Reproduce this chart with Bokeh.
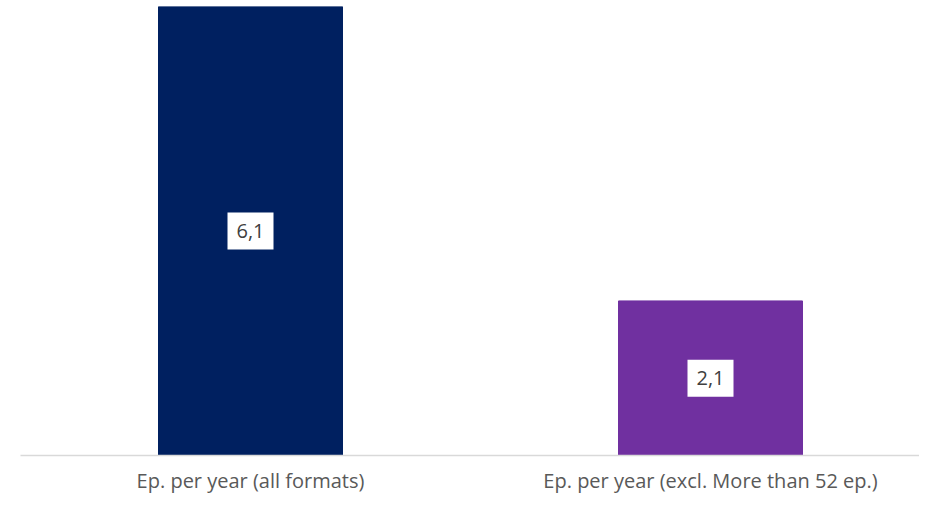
from bokeh.plotting import figure
from bokeh.models import ColumnDataSource, Range1d, FixedTicker
from bokeh.core.properties import value
from bokeh.embed import file_html
from bokeh.resources import INLINE

categories = ["Ep. per year (all formats)", "Ep. per year (excl. More than 52 ep.)"]
values = [6.1, 2.1]
value_labels = ["6,1", "2,1"]
colors = ["#002060", "#7030A0"]

positions = [i + 0.5 for i in range(len(categories))]
src = ColumnDataSource(dict(x=positions, top=values, mid=[v / 2 for v in values],
                            lab=value_labels, color=colors))

p = figure(width=919, height=496, output_backend="svg", toolbar_location=None,
           x_range=Range1d(0, 899 / 460), y_range=Range1d(0, 6.1),
           min_border_left=20, min_border_right=0, min_border_top=6, min_border_bottom=0)
p.outline_line_color = None
p.background_fill_color = "white"
p.border_fill_color = "white"
p.grid.visible = False
p.yaxis.visible = False

p.vbar(x="x", top="top", bottom=0, width=0.4, color="color", source=src)

p.rect(x="x", y="mid", width=46, height=37, width_units="screen", height_units="screen",
       fill_color="white", line_color=None, source=src)
p.text(x="x", y="mid", text="lab", source=src, text_align="center",
       text_baseline="middle", text_font=value("Open Sans"), text_font_size="20px",
       text_color="#404040")

ax = p.xaxis[0]
ax.ticker = FixedTicker(ticks=positions)
ax.major_label_overrides = {pos: c for pos, c in zip(positions, categories)}
ax.axis_line_color = "#d9d9d9"
ax.axis_line_width = 1.5
ax.major_tick_line_color = None
ax.minor_tick_line_color = None
ax.major_label_text_font = "Open Sans"
ax.major_label_text_font_size = "20px"
ax.major_label_text_color = "#595959"
ax.major_label_standoff = 5

open("out.html", "w").write(file_html(p, INLINE))
